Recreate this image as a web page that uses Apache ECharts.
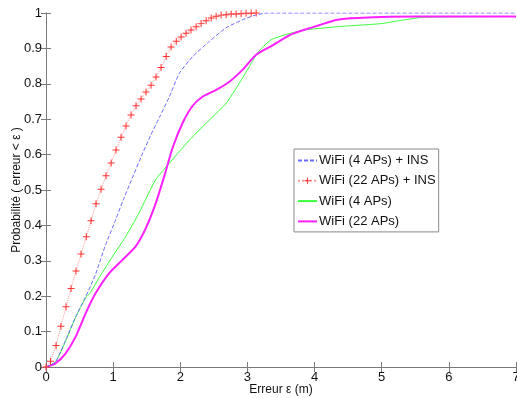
<!DOCTYPE html>
<html>
<head>
<meta charset="utf-8">
<script src="https://cdn.jsdelivr.net/npm/echarts@6/dist/echarts.min.js"></script>
<style>
html, body { margin: 0; padding: 0; background: #fff; }
#chart { width: 517px; height: 398px; }
</style>
</head>
<body>
<div id="chart"></div>
<script>
// erreur (m) / probabilite
var insWifi4X = [0, 0.14, 0.29, 0.44, 0.589, 0.738, 0.887, 1.036, 1.15, 1.27, 1.44, 1.56, 1.689, 1.838, 1.987, 2.185, 2.434, 2.68, 2.93, 3.1, 3.3, 7];
var insWifi4Y = [0, 0.014, 0.075, 0.141, 0.198, 0.262, 0.345, 0.415, 0.472, 0.527, 0.604, 0.655, 0.705, 0.764, 0.83, 0.877, 0.92, 0.958, 0.981, 0.993, 1, 1];

var insWifi22X = [0, 0.067, 0.15, 0.222, 0.298, 0.373, 0.447, 0.522, 0.6, 0.671, 0.745, 0.82, 0.894, 0.97, 1.043, 1.118, 1.192, 1.267, 1.341, 1.416, 1.49, 1.565, 1.639, 1.714, 1.79, 1.863, 1.94, 2.012, 2.086, 2.16, 2.236, 2.31, 2.385, 2.46, 2.534, 2.608, 2.683, 2.757, 2.832, 2.906, 2.98, 3.055, 3.13];
var insWifi22Y = [0, 0.016, 0.061, 0.115, 0.17, 0.222, 0.271, 0.319, 0.368, 0.413, 0.461, 0.502, 0.54, 0.576, 0.613, 0.649, 0.681, 0.712, 0.738, 0.757, 0.777, 0.796, 0.819, 0.846, 0.877, 0.904, 0.92, 0.932, 0.943, 0.952, 0.961, 0.97, 0.978, 0.986, 0.991, 0.994, 0.995, 0.997, 0.997, 0.998, 0.999, 0.999, 1];

var wifi4X = [0, 0.14, 0.29, 0.44, 0.589, 0.66, 0.8, 0.987, 1.185, 1.383, 1.63, 1.838, 2.136, 2.434, 2.683, 2.88, 3.03, 3.15, 3.35, 3.645, 3.89, 4.39, 4.99, 5.28, 5.63, 7];
var wifi4Y = [0, 0.014, 0.072, 0.14, 0.195, 0.21, 0.255, 0.311, 0.368, 0.434, 0.528, 0.576, 0.641, 0.698, 0.745, 0.802, 0.849, 0.887, 0.924, 0.943, 0.953, 0.962, 0.97, 0.979, 0.988, 0.99];

var wifi22X = [0, 0.14, 0.29, 0.44, 0.589, 0.738, 0.936, 1.135, 1.333, 1.482, 1.63, 1.763, 1.887, 2.036, 2.185, 2.334, 2.534, 2.732, 2.93, 3.13, 3.35, 3.645, 3.94, 4.34, 4.64, 5.5, 7];
var wifi22Y = [0, 0.01, 0.038, 0.085, 0.151, 0.208, 0.264, 0.302, 0.34, 0.39, 0.46, 0.54, 0.62, 0.69, 0.738, 0.764, 0.783, 0.806, 0.84, 0.882, 0.906, 0.939, 0.958, 0.981, 0.986, 0.99, 0.99];

var xTicks = [0, 1, 2, 3, 4, 5, 6, 7];
var yTicks = [0, 0.1, 0.2, 0.3, 0.4, 0.5, 0.6, 0.7, 0.8, 0.9, 1];

function pairs(xs, ys) {
    var out = [];
    for (var i = 0; i < xs.length; i++) out.push([xs[i], ys[i]]);
    return out;
}

var axisGray = '#7a7a7a';
var font = 'Liberation Sans, Arial, sans-serif';
var plus = 'path://M4.3,0H5.7V4.3H10V5.7H5.7V10H4.3V5.7H0V4.3H4.3Z';

var baseX = {
    type: 'value', min: 0, max: 7, interval: 1,
    axisLine: { lineStyle: { color: axisGray } },
    axisTick: { inside: true, length: 5, lineStyle: { color: axisGray } },
    splitLine: { show: false }
};
var baseY = {
    type: 'value', min: 0, max: 1, interval: 0.1,
    axisLine: { lineStyle: { color: axisGray } },
    axisTick: { inside: true, length: 5, lineStyle: { color: axisGray } },
    splitLine: { show: false }
};

var option = {
    animation: false,
    grid: { left: 46, right: 1, top: 13, bottom: 31, containLabel: false, outerBoundsMode: 'none' },
    legend: {
        orient: 'vertical',
        left: 294,
        top: 149,
        padding: [5, 3, 4, 3],
        itemGap: 7.3,
        itemWidth: 19,
        itemHeight: 8,
        backgroundColor: '#fff',
        borderColor: '#8a8a8a',
        borderWidth: 1,
        textStyle: { fontFamily: font, fontSize: 13, color: '#111', padding: [0, 0, 0, -3] },
        data: [
            { name: 'WiFi (4 APs) + INS', itemStyle: { opacity: 0 } },
            { name: 'WiFi (22 APs) + INS' },
            { name: 'WiFi (4 APs)', itemStyle: { opacity: 0 } },
            { name: 'WiFi (22 APs)', itemStyle: { opacity: 0 } }
        ]
    },
    xAxis: [
        Object.assign({}, baseX, {
            position: 'bottom',
            name: 'Erreur ε (m)',
            nameLocation: 'middle',
            nameGap: 17,
            nameMoveOverlap: false,
            nameTextStyle: { fontFamily: font, fontSize: 12, color: '#111' },
            axisLabel: { margin: 4, fontFamily: font, fontSize: 13, color: '#111',
                formatter: function(v) { return xTicks.indexOf(v) >= 0 ? String(v) : ''; } }
        }),
        Object.assign({}, baseX, { position: 'top', axisLabel: { show: false } })
    ],
    yAxis: [
        Object.assign({}, baseY, {
            position: 'left',
            name: 'Probabilité ( erreur < ε )',
            nameLocation: 'middle',
            nameGap: 23,
            nameMoveOverlap: false,
            nameTextStyle: { fontFamily: font, fontSize: 12, color: '#111' },
            axisLabel: { margin: 4, fontFamily: font, fontSize: 13, color: '#111',
                formatter: function(v) {
                    var r = Math.round(v * 10) / 10;
                    return yTicks.indexOf(r) >= 0 ? String(r) : '';
                } }
        }),
        Object.assign({}, baseY, { position: 'right', axisLabel: { show: false } })
    ],
    series: [
        {
            name: 'WiFi (4 APs) + INS',
            type: 'line',
            data: pairs(insWifi4X, insWifi4Y),
            symbol: 'none',
            smooth: 0.2,
            lineStyle: { color: '#6b6bff', width: 1, type: [4, 2] },
            itemStyle: { color: '#6b6bff' },
            z: 3
        },
        {
            name: 'WiFi (22 APs) + INS',
            type: 'line',
            data: pairs(insWifi22X, insWifi22Y),
            symbol: plus,
            symbolSize: 7,
            showSymbol: true,
            lineStyle: { color: '#ff9a9a', width: 1, type: 'dotted' },
            itemStyle: { color: '#ff3030' },
            z: 4
        },
        {
            name: 'WiFi (4 APs)',
            type: 'line',
            data: pairs(wifi4X, wifi4Y),
            symbol: 'none',
            smooth: 0.2,
            lineStyle: { color: '#3cff3c', width: 1 },
            itemStyle: { color: '#3cff3c' },
            z: 2
        },
        {
            name: 'WiFi (22 APs)',
            type: 'line',
            data: pairs(wifi22X, wifi22Y),
            symbol: 'none',
            smooth: 0.2,
            lineStyle: { color: '#ff1fff', width: 2 },
            itemStyle: { color: '#ff1fff' },
            z: 2
        }
    ]
};

var myChart = echarts.init(document.getElementById('chart'));
myChart.setOption(option);
</script>
</body>
</html>
